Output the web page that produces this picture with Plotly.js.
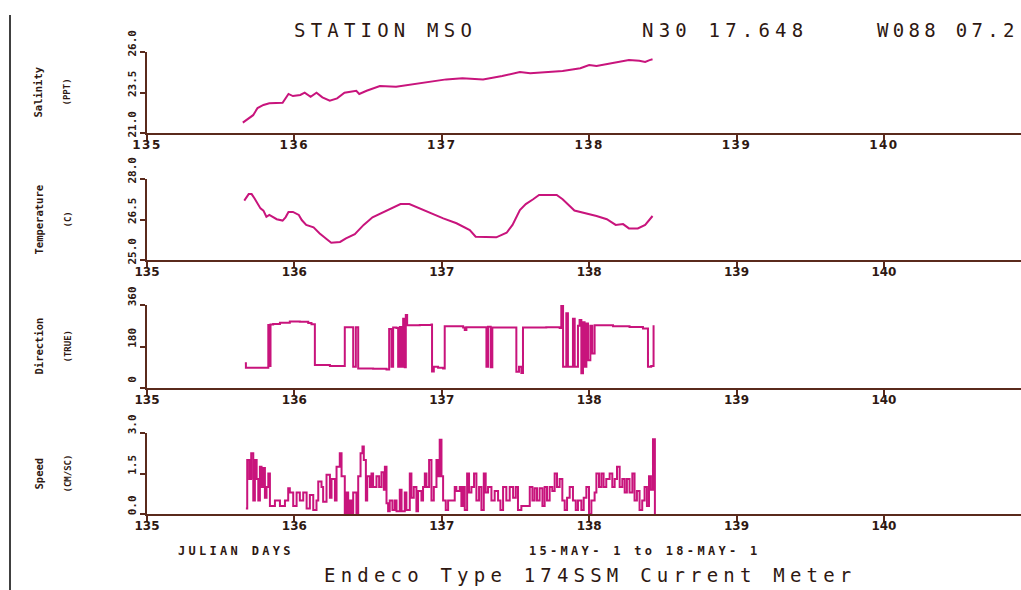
<!DOCTYPE html>
<html>
<head>
<meta charset="utf-8">
<script src="https://cdn.plot.ly/plotly-3.0.1.min.js"></script>
<style>
  html, body { margin: 0; padding: 0; background: #ffffff; }
  #chart { width: 1021px; height: 590px; }
  text[data-unformatted="STATION MSO"],
  text[data-unformatted="N30 17.648"],
  text[data-unformatted="Endeco Type 174SSM Current Meter"] { letter-spacing: 5.2px; }
  text[data-unformatted="W088 07.2"] { letter-spacing: 4.3px; }
  text[data-unformatted="JULIAN DAYS"],
  text[data-unformatted="15-MAY- 1 to 18-MAY- 1"] { letter-spacing: 3.3px; }
  .xtick text { letter-spacing: 1.5px; }
</style>
</head>
<body>
<div id="chart"></div>
<script>
// ---------------- DATA ----------------
const xTickVals = [135, 136, 137, 138, 139, 140];
const xTickText = ['135', '136', '137', '138', '139', '140'];

const salinityDay = [135.65,135.69,135.72,135.75,135.79,135.83,135.92,135.96,135.99,136.04,136.07,136.11,136.15,136.19,136.24,136.29,136.34,136.42,136.44,136.49,136.58,136.69,136.80,136.92,137.03,137.14,137.28,137.41,137.53,137.60,137.71,137.82,137.94,138.00,138.05,138.16,138.27,138.34,138.38,138.41,138.43];
const salinityVal = [21.64,21.93,22.10,22.54,22.73,22.83,22.87,23.41,23.28,23.35,23.49,23.24,23.49,23.20,22.99,23.14,23.49,23.61,23.41,23.61,23.90,23.86,24.02,24.17,24.31,24.38,24.31,24.52,24.77,24.69,24.75,24.83,25.00,25.20,25.14,25.30,25.50,25.46,25.38,25.50,25.55];

const tempDay = [135.66,135.69,135.71,135.73,135.77,135.79,135.81,135.83,135.88,135.92,135.94,135.96,135.99,136.03,136.05,136.08,136.13,136.17,136.22,136.25,136.31,136.35,136.41,136.47,136.53,136.60,136.67,136.72,136.78,136.85,136.92,137.01,137.10,137.19,137.23,137.37,137.44,137.48,137.53,137.57,137.62,137.66,137.78,137.82,137.90,137.98,138.05,138.12,138.18,138.23,138.27,138.33,138.38,138.43];
const tempVal = [27.20,27.44,27.44,27.28,26.91,26.83,26.60,26.67,26.51,26.46,26.58,26.78,26.78,26.67,26.48,26.30,26.21,25.99,25.77,25.64,25.67,25.80,25.96,26.30,26.58,26.75,26.95,27.07,27.07,26.91,26.73,26.54,26.36,26.11,25.86,25.84,26.01,26.30,26.85,27.07,27.25,27.41,27.41,27.25,26.83,26.73,26.63,26.51,26.30,26.33,26.17,26.17,26.30,26.63];

const dirDay = [135.664,135.671,135.823,135.831,135.838,135.856,135.902,135.969,136.037,136.094,136.116,136.139,136.241,136.342,136.399,136.417,136.433,136.534,136.625,136.643,136.659,136.670,136.693,136.704,136.715,136.727,136.738,136.749,136.756,136.765,136.851,136.930,136.934,136.946,136.975,137.009,137.020,137.145,137.156,137.167,137.303,137.314,137.332,137.343,137.506,137.524,137.540,137.551,137.709,137.800,137.811,137.823,137.845,137.856,137.890,137.902,137.924,137.935,137.947,137.958,137.969,137.981,137.992,138.008,138.021,138.037,138.162,138.274,138.365,138.399,138.421,138.437];
const dirVal = [107,88,273,95,275,278,283,288,287,282,276,100,95,263,92,263,85,83,80,256,92,262,260,92,265,92,300,90,317,272,273,275,72,92,88,85,268,262,252,264,92,266,90,262,70,92,65,262,264,260,356,92,324,92,300,92,270,295,64,285,92,280,120,270,150,272,268,265,258,92,95,272];

const speedDay = [135.671,135.680,135.694,135.707,135.721,135.732,135.744,135.755,135.766,135.777,135.789,135.800,135.811,135.823,135.834,135.868,135.902,135.936,135.958,135.969,135.992,136.015,136.037,136.060,136.083,136.105,136.128,136.150,136.162,136.184,136.195,136.218,136.241,136.252,136.275,136.286,136.308,136.320,136.342,136.354,136.365,136.376,136.388,136.399,136.421,136.433,136.449,136.462,136.471,136.485,136.494,136.512,136.523,136.534,136.557,136.575,136.591,136.607,136.614,136.625,136.636,136.647,136.665,136.681,136.693,136.715,136.727,136.749,136.760,136.783,136.794,136.810,136.828,136.839,136.862,136.873,136.885,136.896,136.914,136.930,136.946,136.964,136.975,136.986,136.998,137.009,137.027,137.043,137.066,137.088,137.099,137.122,137.133,137.145,137.156,137.172,137.185,137.201,137.219,137.235,137.253,137.269,137.285,137.298,137.314,137.337,137.359,137.382,137.398,137.416,137.438,137.461,137.484,137.502,137.517,137.540,137.574,137.597,137.615,137.630,137.646,137.664,137.683,137.698,137.714,137.732,137.750,137.766,137.782,137.800,137.818,137.834,137.850,137.868,137.890,137.909,137.924,137.947,137.963,137.981,137.999,138.015,138.037,138.049,138.067,138.083,138.098,138.116,138.139,138.157,138.173,138.189,138.207,138.225,138.241,138.256,138.274,138.293,138.308,138.324,138.342,138.360,138.376,138.392,138.406,138.419,138.433,138.446];
const speedVal = [0.2,2.0,1.3,2.25,0.5,2.0,1.3,0.5,1.75,1.0,1.7,0.6,1.0,1.5,0.3,0.5,0.3,0.5,0.95,0.8,0.3,0.8,0.5,0.8,0.2,0.7,0.15,0.5,1.2,1.0,0.45,1.45,0.6,1.3,0.5,1.75,2.25,1.4,0.0,0.8,0.0,0.5,0.0,0.8,0.0,1.4,2.25,2.5,2.0,0.5,1.4,1.0,1.5,1.0,1.4,1.0,1.55,0.9,1.75,0.4,0.1,0.5,0.15,0.5,0.1,0.9,0.1,0.8,0.15,1.5,0.6,1.0,0.1,0.85,0.5,1.0,1.5,1.0,2.0,0.5,1.0,2.0,1.4,2.75,1.4,0.5,0.15,0.5,0.5,1.0,0.85,1.0,0.3,1.0,0.15,1.5,0.8,1.0,1.5,0.5,1.0,0.15,1.5,0.8,1.0,0.5,0.85,0.5,0.15,1.0,0.5,1.0,0.6,1.0,0.15,0.3,0.3,1.0,0.5,0.95,0.5,0.95,0.3,1.0,0.5,1.0,0.85,1.5,1.0,1.3,0.5,0.15,0.6,1.0,0.5,0.15,0.5,0.15,0.6,1.0,0.0,0.5,0.8,1.5,1.0,1.5,1.0,1.3,1.5,1.0,1.3,1.75,1.0,1.3,0.8,1.3,0.8,1.5,0.5,0.85,0.15,0.5,1.0,0.3,1.4,0.9,2.77,0.0];

const panelTitles = ['Salinity', 'Temperature', 'Direction', 'Speed'];
const panelUnits = ['(PPT)', '(C)', '(TRUE)', '(CM/SC)'];
const yRanges = [[21, 26], [25, 28], [0, 360], [0, 3]];
const yTickText = [['21.0', '23.5', '26.0'], ['25.0', '26.5', '28.0'], ['0', '180', '360'], ['0.0', '1.5', '3.0']];

// ---------------- STYLE ----------------
const W = 1021, H = 590, L = 147;
const lineColor = '#c8147c';
const axisColor = '#5a2a1c';
const textColor = '#2e1812';
const px = x => (x - L) / (W - L);   // pixel -> paper x
const py = y => 1 - y / H;           // pixel -> paper y
const domains = [[py(133), py(52)], [py(260), py(179)], [py(388), py(305)], [py(514), py(433)]];

const series = [[salinityDay, salinityVal, 'linear'], [tempDay, tempVal, 'linear'], [dirDay, dirVal, 'hv'], [speedDay, speedVal, 'hv']];
const traces = series.map((s, i) => ({
  x: s[0], y: s[1], type: 'scatter', mode: 'lines',
  line: { color: lineColor, width: 2, shape: s[2] },
  xaxis: i === 0 ? 'x' : 'x' + (i + 1),
  yaxis: i === 0 ? 'y' : 'y' + (i + 1),
  hoverinfo: 'skip', showlegend: false
}));

const layout = {
  width: W, height: H,
  margin: { l: L, r: 0, t: 0, b: 0 },
  paper_bgcolor: '#ffffff', plot_bgcolor: '#ffffff',
  showlegend: false,
  font: { family: 'DejaVu Sans Mono, monospace', color: textColor },
  annotations: [], shapes: []
};

for (let i = 0; i < 4; i++) {
  const sx = i === 0 ? '' : String(i + 1);
  const yr = yRanges[i];
  layout['xaxis' + sx] = {
    domain: [0, 1], anchor: 'y' + sx, range: [135, 140.93],
    tickmode: 'array', tickvals: xTickVals, ticktext: xTickText,
    showline: true, linecolor: axisColor, linewidth: 2,
    ticks: 'outside', ticklen: 6, tickwidth: 2, tickcolor: axisColor,
    ticklabelstandoff: -6,
    showgrid: false, zeroline: false,
    tickfont: { family: 'DejaVu Sans, sans-serif', size: 12, weight: 'bold', color: textColor }
  };
  layout['yaxis' + sx] = {
    domain: domains[i], anchor: 'x' + sx, range: yr,
    tickmode: 'array', tickvals: [yr[0], (yr[0] + yr[1]) / 2, yr[1]], ticktext: yTickText[i],
    tickangle: -90, ticklabelshift: -7,
    showline: true, linecolor: axisColor, linewidth: 2,
    ticks: 'outside', ticklen: 5, tickwidth: 2, tickcolor: axisColor,
    showgrid: false, zeroline: false,
    tickfont: { family: 'DejaVu Sans Mono, monospace', size: 11, weight: 'bold', color: textColor }
  };
  layout.annotations.push({
    text: panelTitles[i], xref: 'paper', yref: 'y' + sx + ' domain',
    x: px(38), y: 0.5, xanchor: 'center', yanchor: 'middle', textangle: -90, showarrow: false,
    font: { family: 'DejaVu Sans Mono, monospace', size: 10.5, weight: 'bold', color: textColor }
  });
  layout.annotations.push({
    text: panelUnits[i], xref: 'paper', yref: 'y' + sx + ' domain',
    x: px(67), y: 0.5, xanchor: 'center', yanchor: 'middle', textangle: -90, showarrow: false,
    font: { family: 'DejaVu Sans Mono, monospace', size: 9, weight: 'bold', color: textColor }
  });
}

const bigFont = { family: 'DejaVu Sans Mono, monospace', size: 19, color: textColor };
const smallBold = { family: 'DejaVu Sans Mono, monospace', size: 12, weight: 'bold', color: textColor };
const freeText = [
  ['STATION MSO', 292, 30, bigFont],
  ['N30 17.648', 640, 30, bigFont],
  ['W088 07.2', 875, 30, bigFont],
  ['JULIAN DAYS', 176, 551, smallBold],
  ['15-MAY- 1 to 18-MAY- 1', 527, 551, smallBold],
  ['Endeco Type 174SSM Current Meter', 322, 575, bigFont]
];
freeText.forEach(t => layout.annotations.push({
  text: t[0], xref: 'paper', yref: 'paper', x: px(t[1]), y: py(t[2]),
  xanchor: 'left', yanchor: 'middle', align: 'left', showarrow: false, font: t[3]
}));

layout.shapes.push({
  type: 'line', xref: 'paper', yref: 'paper', x0: px(10), x1: px(10), y0: 0, y1: py(15),
  line: { color: '#000000', width: 1.5 }
});

Plotly.newPlot('chart', traces, layout, { displayModeBar: false, staticPlot: true });
</script>
</body>
</html>
